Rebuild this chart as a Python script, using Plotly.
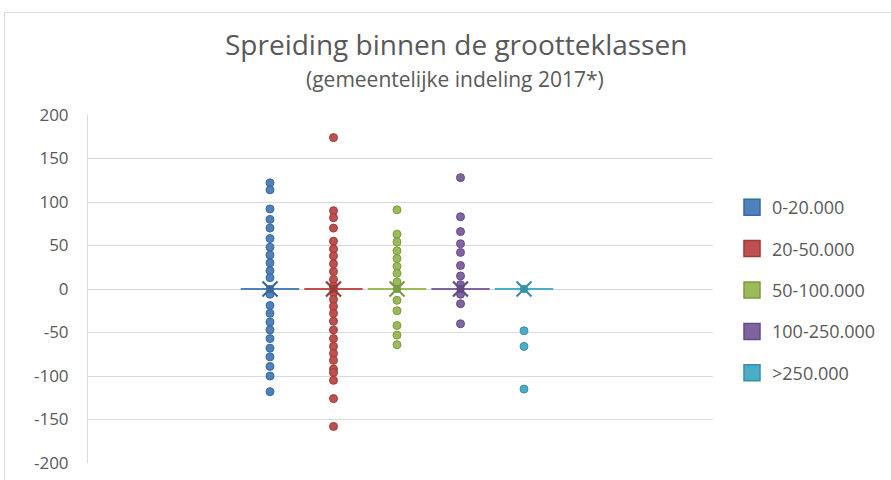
import plotly.graph_objects as go

categories = ["0-20.000", "20-50.000", "50-100.000", "100-250.000", ">250.000"]

vals_0_20 = [122, 114, 92, 80, 70, 58, 48, 39, 30, 21, 13, -6, -19, -28, -38, -47,
             -57, -68, -78, -89, -100, -118]
vals_20_50 = [174, 90, 82, 70, 55, 46, 38, 29, 20, 11, 3, -4, -12, -20, -28, -37, -47,
              -57, -66, -74, -82, -92, -96, -105, -126, -158]
vals_50_100 = [91, 63, 54, 44, 35, 26, 18, 8, -13, -25, -42, -53, -64]
vals_100_250 = [128, 83, 66, 52, 42, 27, 15, 5, -6, -17, -40]
vals_250 = [-48, -66, -115]
series_values = [vals_0_20, vals_20_50, vals_50_100, vals_100_250, vals_250]
mean_values = [0, 0, 0, 0, 0]

y_ticks = [-200, -150, -100, -50, 0, 50, 100, 150, 200]
y_tick_labels = ["-200", "-150", "-100", "-50", "0", "50", "100", "150", "200"]

fills = ["#4F81BD", "#C0504D", "#9BBB59", "#8064A2", "#4BACC6"]
edges = ["#3A679C", "#9A3B38", "#7A9A43", "#634B84", "#3690A8"]

fig = go.Figure()
half = 0.46
for i, (name, vals, m) in enumerate(zip(categories, series_values, mean_values)):
    xc = i + 1
    fig.add_trace(go.Scatter(x=[xc - half, xc + half], y=[m, m], mode="lines",
                             line=dict(color=fills[i], width=2), showlegend=False,
                             hoverinfo="skip"))
    fig.add_trace(go.Scatter(x=[xc] * len(vals), y=vals, mode="markers", name=name,
                             marker=dict(size=8, color=fills[i],
                                         line=dict(color=edges[i], width=1)),
                             showlegend=False))
    fig.add_trace(go.Scatter(x=[xc], y=[m], mode="markers", showlegend=False,
                             marker=dict(symbol="x-thin", size=15,
                                         line=dict(color=edges[i], width=2.2)),
                             hoverinfo="skip"))
    fig.add_trace(go.Scatter(x=[xc], y=[m], mode="markers", showlegend=False,
                             marker=dict(symbol="circle", size=8, color=edges[i]),
                             hoverinfo="skip"))
    fig.add_trace(go.Scatter(x=[None], y=[None], mode="markers", name=name,
                             legendgroup=name,
                             marker=dict(symbol="square", size=17, color=fills[i],
                                         line=dict(color=edges[i], width=1.5))))

L, R, T, B = 88, 178, 115, 17
W, H = 891, 480
pw, ph = W - L - R, H - T - B

def px_x(p):
    return (p - L) / pw

def px_y(p):
    return (H - B - p) / ph

FONT = "'Open Sans', Lato, sans-serif"

fig.update_layout(
    width=W, height=H,
    margin=dict(l=L, r=R, t=T, b=B, autoexpand=False),
    paper_bgcolor="white", plot_bgcolor="white",
    font=dict(family=FONT, color="#595959", size=17),
    showlegend=True,
    legend=dict(x=px_x(732), y=px_y(189), xanchor="left", yanchor="top",
                traceorder="grouped", tracegroupgap=15,
                font=dict(size=18, color="#595959", family=FONT),
                bgcolor="rgba(0,0,0,0)"),
    xaxis=dict(range=[-1.866, 7.976], visible=False, fixedrange=True,
               automargin=False),
    yaxis=dict(range=[-200, 200], tickvals=y_ticks, ticktext=y_tick_labels,
               showgrid=True, automargin=False,
               gridcolor="#D9D9D9", gridwidth=1, zeroline=False,
               showline=True, linecolor="#D9D9D9", linewidth=1,
               ticks="", ticklabelstandoff=15,
               tickfont=dict(size=17, color="#595959", family=FONT)),
    annotations=[
        dict(text="Spreiding binnen de grootteklassen", xref="paper", yref="paper",
             x=px_x(456), y=px_y(44), xanchor="center", yanchor="middle",
             showarrow=False, font=dict(size=28, color="#595959", family=FONT)),
        dict(text="(gemeentelijke indeling 2017*)", xref="paper", yref="paper",
             x=px_x(455), y=px_y(79), xanchor="center", yanchor="middle",
             showarrow=False, font=dict(size=21, color="#595959", family=FONT)),
    ],
    shapes=[
        dict(type="rect", xref="paper", yref="paper",
             x0=px_x(4.5), x1=px_x(W + 20), y0=px_y(12.5), y1=px_y(H + 20),
             line=dict(color="#D9D9D9", width=1), fillcolor="rgba(0,0,0,0)",
             layer="below"),
    ],
)

fig.write_html("out.html", config={"displayModeBar": False},
               post_script="document.body.style.margin='0';document.body.style.overflow='hidden';")
